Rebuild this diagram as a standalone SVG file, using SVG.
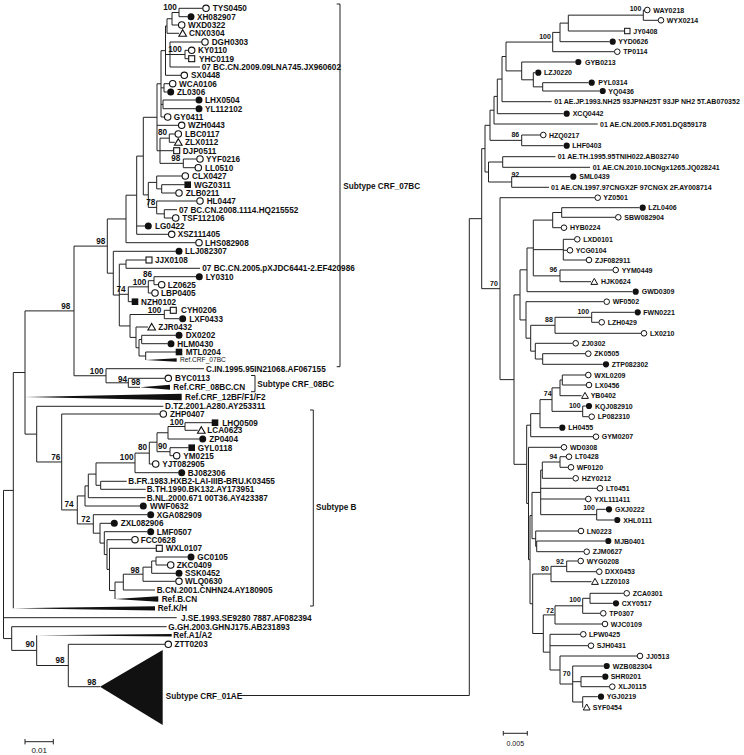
<svg xmlns="http://www.w3.org/2000/svg" xmlns:xlink="http://www.w3.org/1999/xlink" width="744" height="755" viewBox="0 0 744 755">
<style>
.br{fill:none;stroke:#222;stroke-width:1}
.t{font-family:"Liberation Sans",Arial,sans-serif;font-weight:bold;font-size:8.2px;fill:#111}
.tr{font-family:"Liberation Sans",Arial,sans-serif;font-weight:bold;font-size:7px;fill:#111}
.bs{font-family:"Liberation Sans",Arial,sans-serif;font-weight:bold;font-size:8.2px;fill:#111;text-anchor:middle}
.bsr{font-family:"Liberation Sans",Arial,sans-serif;font-weight:bold;font-size:7px;fill:#111;text-anchor:middle}
.sm{font-family:"Liberation Sans",Arial,sans-serif;font-size:6.6px;fill:#111}
.sc{font-family:"Liberation Sans",Arial,sans-serif;font-size:8px;fill:#111;text-anchor:middle}
.w{fill:#111}
</style>
<defs>
<circle id="oc" r="3.2" fill="#fff" stroke="#111" stroke-width="1.1"/>
<circle id="fc" r="3.5" fill="#111"/>
<rect id="os" x="-3" y="-3" width="6" height="6" fill="#fff" stroke="#111" stroke-width="1.1"/>
<rect id="fs" x="-3.3" y="-3.3" width="6.6" height="6.6" fill="#111"/>
<path id="ot" d="M0 -3.6L3.8 3L-3.8 3Z" fill="#fff" stroke="#111" stroke-width="1.1"/>
<circle id="roc" r="2.8" fill="#fff" stroke="#111" stroke-width="1"/>
<circle id="rfc" r="3.1" fill="#111"/>
<rect id="ros" x="-2.7" y="-2.7" width="5.4" height="5.4" fill="#fff" stroke="#111" stroke-width="1"/>
<path id="rot" d="M0 -3.3L3.4 2.7L-3.4 2.7Z" fill="#fff" stroke="#111" stroke-width="1"/>
</defs>
<rect width="744" height="755" fill="#fff"/>

<g id="connectors">
<path class="br" d="M179 8.3V16.7M172 12.5V25M167 18.75V33.3M185 50.3V58.7M170 42V67M165.5 26V75.3M164 83.7V92M163 100V108.7M161 50.65V117M169.3 134V142.3M183.3 159V167.7M160 138.15V163.35M157 83.8V150.75M161.7 184.7V193M156.7 176V188.85M164.3 209.7V218M156.7 201V213.85M148.3 182.4V207.4M143.3 117.3V194.9M136.7 156.1V234.3M126 195.2V242.7M154 276.7V284.7M148.3 280.7V293M128.3 286.85V301.7M126 260V268.3M164.3 310.3V318.7M141.7 335.3V343.7M145.7 352V360M139 339.5V356M136 327V347.75M130 314.5V337.4M119.3 264.15V325.95M113.3 251.3V295.05M107.3 218.95V273.2M128.3 378.3V387.3M106 368.7V382.8M74 246.1V375.75M185 422.7V430.3M168 426.5V439M170 447.7V455.7M157 432.75V451.7M149.3 442.2V464M135 453.1V472.7M100.7 481.3V489.3M96 462.9V485.3M88.3 474.1V497.7M85 485.9V506M156 557V565M151.7 561V573.3M143 567.15V581.3M123.3 574.2V590M115 582.1V599M109.5 548.3V590.55M107 539.7V569.4M104.3 531.7V554.55M100 523.3V543.1M93.3 514.7V533.2M77.3 495.95V523.95M61.7 414V509.95M36.7 406.3V461.98M25 310.9V434.14M13.3 372.52V608.3M11.7 626.7V650.4M36.7 635.3V665.5M68.3 644.3V686.7M3.5 490.41V638.55"/>
<path class="br" d="M179 8.3H202.7M179 16.7H187.7M172 12.5H179M172 25H178.4M167 18.75H172M167 33.3H179M185 50.3H188.4M185 58.7H188.7M170 42H201.7M170 54.5H185M170 67H200M165.5 26H167M165.5 54.5H170M165.5 75.3H181M164 83.7H169.4M164 92H167.4M163 100H195.7M163 108.7H195.7M161 50.65H165.5M161 87.85H164M161 104.35H163M161 117H164.4M169.3 134H175M169.3 142.3H174.8M183.3 159H196.7M183.3 167.7H195M160 138.15H169.3M160 150.7H173.7M160 163.35H183.3M157 83.8H161M157 125.3H178.4M157 150.75H160M161.7 184.7H184.7M161.7 193H175.7M156.7 176H182M156.7 188.85H161.7M164.3 209.7H177M164.3 218H172.4M156.7 201H196.7M156.7 213.85H164.3M148.3 182.4H156.7M148.3 207.4H156.7M143.3 117.3H157M143.3 194.9H148.3M136.7 156.1H143.3M136.7 226H145M136.7 234.3H168.4M126 195.2H136.7M126 242.7H195.7M154 276.7H196M154 284.7H158.4M148.3 280.7H154M148.3 293H151.7M128.3 286.85H148.3M128.3 301.7H132M126 260H146M126 268.3H200M164.3 310.3H170.3M164.3 318.7H179.4M141.7 335.3H175.7M141.7 343.7H167.7M145.7 352H176M139 339.5H141.7M139 356H145.7M136 327H148M136 347.75H139M130 314.5H164.3M130 337.4H136M119.3 264.15H126M119.3 294.3H128.3M119.3 325.95H130M113.3 251.3H175.7M113.3 295.05H119.3M107.3 218.95H126M107.3 273.2H113.3M128.3 378.3H165M128.3 387.3H140M106 368.7H204M106 382.8H128.3M74 246.1H107.3M74 375.75H106M185 422.7H212M185 430.3H197.8M168 426.5H185M168 439H199.4M170 447.7H188.7M170 455.7H173.4M157 432.75H168M157 451.7H170M149.3 442.2H157M149.3 464H152.4M135 453.1H149.3M135 472.7H178.4M100.7 481.3H126.7M100.7 489.3H145.7M96 462.9H135M96 485.3H100.7M88.3 474.1H96M88.3 497.7H145.7M85 485.9H88.3M85 506H140M156 557H187.7M156 565H167.4M151.7 561H156M151.7 573.3H175.7M143 567.15H151.7M143 581.3H175.7M123.3 574.2H143M123.3 590H155M115 582.1H123.3M109.5 548.3H156.3M109.5 590.55H115M107 539.7H131.7M107 569.4H109.5M104.3 531.7H147.4M104.3 554.55H107M100 523.3H111M100 543.1H104.3M93.3 514.7H147.4M93.3 533.2H100M77.3 495.95H85M77.3 523.95H93.3M61.7 414H160M61.7 509.95H77.3M36.7 406.3H163.3M36.7 461.98H61.7M25 310.9H74M25 434.14H36.7M13.3 372.52H25M68.3 644.3H165M68.3 686.7H100M36.7 665.5H68.3M11.7 626.7H166.7M11.7 650.4H36.7M3.5 490.41H13.3M3.5 617.7H176.7M3.5 638.55H11.7"/>
<path class="w" d="M145.7 360L176.7 358.3L176.7 361.7ZM140 387.3L170 384.8L170 389.8ZM25 397L181.7 393.8L181.7 400.2ZM115 599L158.3 596.3L158.3 601.7ZM13.3 608.3L155 606.2L155 610.4ZM36.7 635.3L171.7 634L171.7 636.6Z"/>
<path class="br" d="M643.3 10V20.3M568.3 15.15V31M560 23.1V41.7M552.7 32.4V51.7M542.7 82.7V91M533.3 72.7V86.85M521.7 62V79.8M506 42.05V70.9M502 56.5V101.7M497.3 79.1V113.7M494 96.4V124M521.7 135V145.7M490 110.2V140.35M502.7 156.7V167.3M511.7 176.7V187.3M488.5 162V182M485 125.3V172M561.7 207.7V217.3M552.7 212.5V227.7M563.3 239.3V260M560 270V281.7M533.3 220.1V275.85M527 247.98V291.7M591.7 312.3V322.3M555 317.3V333.3M542.7 353.7V364.3M535.3 343.3V359M530.7 325.3V351.15M526 301.7V338.2M520 269.84V319.95M562.3 375V385M560 380V395.7M582.7 406V416.7M552 387.85V411.35M540 399.6V427.7M530.7 413.65V436.7M560 456.7V467.3M542.3 462V478.3M596.7 509.3V520M540.7 470.15V514.65M536.7 541V551.7M535.7 531V546.35M532 492.4V538.7M566.7 561V571.7M551 566.35V581.7M590 593.3V603.3M582.7 598.3V613.3M555 605.8V624M581 676.7V686.7M582.7 696.7V707.3M572.7 666V702M560 656V684M550 634.3V670M543.3 614.9V652.15M532.7 574V633.5M530 515.55V603.75M528.5 447.3V559.65M526.7 425.2V503.48M514 294.9V464.34M500 197.7V379.62M481.7 148.65V288.66M469.3 218.66V695.5"/>
<path class="br" d="M643.3 10H644.3M643.3 20.3H658M568.3 15.15H643.3M568.3 31H624.5M560 23.1H568.3M560 41.7H609.5M552.7 32.4H560M552.7 51.7H614.3M542.7 82.7H588.5M542.7 91H599.5M533.3 72.7H535.1M533.3 86.85H542.7M521.7 62H575.1M521.7 79.8H533.3M506 42.05H552.7M506 70.9H521.7M502 56.5H506M502 101.7H551.7M497.3 79.1H502M497.3 113.7H563.5M494 96.4H497.3M494 124H597.7M521.7 135H540.3M521.7 145.7H563.5M490 110.2H494M490 140.35H521.7M502.7 156.7H555.5M502.7 167.3H590M511.7 176.7H570.1M511.7 187.3H549M488.5 162H502.7M488.5 182H511.7M485 125.3H490M485 172H488.5M561.7 207.7H639.5M561.7 217.3H615.3M552.7 212.5H561.7M552.7 227.7H561M563.3 239.3H574.3M563.3 250.3H567M563.3 260H586M560 270H612.7M560 281.7H591M533.3 220.1H552.7M533.3 249.65H563.3M533.3 275.85H560M527 247.98H533.3M527 291.7H632.5M591.7 312.3H634.5M591.7 322.3H598.7M555 317.3H591.7M555 333.3H641M542.7 353.7H585.3M542.7 364.3H602.8M535.3 343.3H572.7M535.3 359H542.7M530.7 325.3H555M530.7 351.15H535.3M526 301.7H603.7M526 338.2H530.7M520 269.84H527M520 319.95H526M562.3 375H585.3M562.3 385H586M560 380H562.3M560 395.7H581.5M582.7 406H585.8M582.7 416.7H588.7M552 387.85H560M552 411.35H582.7M540 399.6H552M540 427.7H559.1M530.7 413.65H540M530.7 436.7H593M560 456.7H566M560 467.3H568M542.3 462H560M542.3 478.3H572.7M596.7 509.3H605.8M596.7 520H614.1M540.7 470.15H542.3M540.7 488.3H597M540.7 499H585.3M540.7 514.65H596.7M536.7 541H605.1M536.7 551.7H583.7M535.7 531H578M535.7 546.35H536.7M532 492.4H540.7M532 538.7H535.7M566.7 561H577.7M566.7 571.7H596.3M551 566.35H566.7M551 581.7H591.5M590 593.3H623.7M590 603.3H612.8M582.7 598.3H590M582.7 613.3H600.3M555 605.8H582.7M555 624H602M581 676.7H602.1M581 686.7H609.3M582.7 696.7H597.8M582.7 707.3H583.2M572.7 666H603.5M572.7 681.7H581M572.7 702H582.7M560 656H637M560 684H572.7M550 634.3H580.3M550 645.7H588M550 670H560M543.3 614.9H555M543.3 652.15H550M532.7 574H551M532.7 633.5H543.3M530 515.55H532M530 603.75H532.7M528.5 447.3H561M528.5 559.65H530M526.7 425.2H530.7M526.7 503.48H528.5M514 294.9H520M514 464.34H526.7M500 197.7H594.7M500 379.62H514M481.7 148.65H485M481.7 288.66H500M469.3 218.66H481.7M240.7 695.5H469.3"/>
<path class="br" d="M336.7 4H340V366.7H336.7M251 375.5H255V391.7H251M310 410H313.3V606H310"/>
</g>

<g id="bootstrap-left">
<text class="bs" x="170" y="9.6">100</text>
<text class="bs" x="175" y="51.9">100</text>
<text class="bs" x="162.5" y="135.2">80</text>
<text class="bs" x="175.8" y="161.2">98</text>
<text class="bs" x="150.8" y="205.2">78</text>
<text class="bs" x="100.8" y="243.6">98</text>
<text class="bs" x="65.8" y="309.4">98</text>
<text class="bs" x="147.5" y="276.9">86</text>
<text class="bs" x="139.5" y="285.2">100</text>
<text class="bs" x="121" y="291.9">74</text>
<text class="bs" x="154.5" y="312.9">100</text>
<text class="bs" x="96.7" y="373.6">100</text>
<text class="bs" x="122.5" y="381.6">94</text>
<text class="bs" x="135.8" y="385.2">98</text>
<text class="bs" x="176.7" y="424.8">100</text>
<text class="bs" x="142.5" y="449.6">80</text>
<text class="bs" x="162.5" y="448.9">90</text>
<text class="bs" x="126.7" y="459.6">100</text>
<text class="bs" x="55.8" y="459.6">76</text>
<text class="bs" x="69" y="506.9">74</text>
<text class="bs" x="85.8" y="521.9">72</text>
<text class="bs" x="135" y="572.6">98</text>
<text class="bs" x="30" y="647.2">90</text>
<text class="bs" x="60" y="662.9">98</text>
<text class="bs" x="91.7" y="684.6">98</text>
</g>
<g id="bootstrap-right">
<text class="bsr" x="635.5" y="10.8">100</text>
<text class="bsr" x="545" y="38.5">100</text>
<text class="bsr" x="515.3" y="136.8">86</text>
<text class="bsr" x="515.3" y="176.8">92</text>
<text class="bsr" x="494" y="285.8">70</text>
<text class="bsr" x="553.3" y="271.5">96</text>
<text class="bsr" x="583.3" y="313.5">100</text>
<text class="bsr" x="549" y="321.5">88</text>
<text class="bsr" x="547.7" y="395.8">74</text>
<text class="bsr" x="574.8" y="408.2">100</text>
<text class="bsr" x="553.3" y="459.2">94</text>
<text class="bsr" x="589" y="509.8">100</text>
<text class="bsr" x="560" y="563.5">92</text>
<text class="bsr" x="545" y="570.8">80</text>
<text class="bsr" x="575" y="601.5">100</text>
<text class="bsr" x="550" y="612.5">72</text>
<text class="bsr" x="566.7" y="675.8">70</text>
</g>

<g id="n-TYS0450"><use href="#oc" x="206" y="8.3"/><text class="t" x="212.7" y="11.2">TYS0450</text></g>
<g id="n-XH082907"><use href="#fc" x="191" y="16.7"/><text class="t" x="197" y="19.6">XH082907</text></g>
<g id="n-WXD0322"><use href="#oc" x="181.7" y="25"/><text class="t" x="188" y="27.9">WXD0322</text></g>
<g id="n-CNX0304"><use href="#ot" x="182.7" y="33.3"/><text class="t" x="189" y="36.2">CNX0304</text></g>
<g id="n-DGH0303"><use href="#oc" x="205" y="42"/><text class="t" x="211.7" y="44.9">DGH0303</text></g>
<g id="n-KY0110"><use href="#oc" x="191.7" y="50.3"/><text class="t" x="198" y="53.2">KY0110</text></g>
<g id="n-YHC0119"><use href="#os" x="191.7" y="58.7"/><text class="t" x="199" y="61.6">YHC0119</text></g>
<g id="n-JX960602"><text class="t" x="201.7" y="69.9">07 BC.CN.2009.09LNA745.JX960602</text></g>
<g id="n-SX0448"><use href="#oc" x="184.3" y="75.3"/><text class="t" x="191" y="78.2">SX0448</text></g>
<g id="n-WCA0106"><use href="#oc" x="172.7" y="83.7"/><text class="t" x="179" y="86.6">WCA0106</text></g>
<g id="n-ZL0306"><use href="#fc" x="170.7" y="92"/><text class="t" x="177" y="94.9">ZL0306</text></g>
<g id="n-LHX0504"><use href="#fc" x="199" y="100"/><text class="t" x="205" y="102.9">LHX0504</text></g>
<g id="n-YL112102"><use href="#fc" x="199" y="108.7"/><text class="t" x="205" y="111.6">YL112102</text></g>
<g id="n-GY0411"><use href="#oc" x="167.7" y="117"/><text class="t" x="173.8" y="119.9">GY0411</text></g>
<g id="n-WZH0443"><use href="#oc" x="181.7" y="125.3"/><text class="t" x="188" y="128.2">WZH0443</text></g>
<g id="n-LBC0117"><use href="#oc" x="178.3" y="134"/><text class="t" x="185" y="136.9">LBC0117</text></g>
<g id="n-ZLX0112"><use href="#ot" x="178.3" y="142.3"/><text class="t" x="185" y="145.2">ZLX0112</text></g>
<g id="n-DJP0511"><use href="#os" x="176.7" y="150.7"/><text class="t" x="182.7" y="153.6">DJP0511</text></g>
<g id="n-YYF0216"><use href="#oc" x="200" y="159"/><text class="t" x="206" y="161.9">YYF0216</text></g>
<g id="n-LL0510"><use href="#oc" x="198.3" y="167.7"/><text class="t" x="205" y="170.6">LL0510</text></g>
<g id="n-CLX0427"><use href="#oc" x="185.3" y="176"/><text class="t" x="192" y="178.9">CLX0427</text></g>
<g id="n-WGZ0311"><use href="#fs" x="187.7" y="184.7"/><text class="t" x="194" y="187.6">WGZ0311</text></g>
<g id="n-ZLB0211"><use href="#oc" x="179" y="193"/><text class="t" x="185.7" y="195.9">ZLB0211</text></g>
<g id="n-HL0447"><use href="#oc" x="200" y="201"/><text class="t" x="206.7" y="203.9">HL0447</text></g>
<g id="n-HQ215552"><text class="t" x="179" y="212.6">07 BC.CN.2008.1114.HQ215552</text></g>
<g id="n-TSF112106"><use href="#oc" x="175.7" y="218"/><text class="t" x="182.3" y="220.9">TSF112106</text></g>
<g id="n-LG0422"><use href="#fc" x="148.3" y="226"/><text class="t" x="155" y="228.9">LG0422</text></g>
<g id="n-XSZ111405"><use href="#oc" x="171.7" y="234.3"/><text class="t" x="177.7" y="237.2">XSZ111405</text></g>
<g id="n-LHS082908"><use href="#oc" x="199" y="242.7"/><text class="t" x="205" y="245.6">LHS082908</text></g>
<g id="n-LLJ082307"><use href="#fc" x="179" y="251.3"/><text class="t" x="185" y="254.2">LLJ082307</text></g>
<g id="n-JJX0108"><use href="#os" x="149" y="260"/><text class="t" x="155" y="262.9">JJX0108</text></g>
<g id="n-EF420986"><text class="t" x="202.3" y="271.2">07 BC.CN.2005.pXJDC6441-2.EF420986</text></g>
<g id="n-LY0310"><use href="#fc" x="199.3" y="276.7"/><text class="t" x="205.7" y="279.6">LY0310</text></g>
<g id="n-LZ0625"><use href="#oc" x="161.7" y="284.7"/><text class="t" x="167.7" y="287.6">LZ0625</text></g>
<g id="n-LBP0405"><use href="#oc" x="155" y="293"/><text class="t" x="161" y="295.9">LBP0405</text></g>
<g id="n-NZH0102"><use href="#fs" x="135" y="301.7"/><text class="t" x="141" y="304.6">NZH0102</text></g>
<g id="n-CYH0206"><use href="#os" x="173.3" y="310.3"/><text class="t" x="181" y="313.2">CYH0206</text></g>
<g id="n-LXF0433"><use href="#fc" x="182.7" y="318.7"/><text class="t" x="189.3" y="321.6">LXF0433</text></g>
<g id="n-ZJR0432"><use href="#ot" x="151.7" y="327"/><text class="t" x="158.3" y="329.9">ZJR0432</text></g>
<g id="n-DX0202"><use href="#fc" x="179" y="335.3"/><text class="t" x="185.7" y="338.2">DX0202</text></g>
<g id="n-HLM0430"><use href="#fc" x="171" y="343.7"/><text class="t" x="177.3" y="346.6">HLM0430</text></g>
<g id="n-MTL0204"><use href="#fs" x="179" y="352"/><text class="t" x="185.7" y="354.9">MTL0204</text></g>
<g id="n-RefCRF07BC"><text class="sm" x="180" y="362.4">Ref.CRF_07BC</text></g>
<g id="n-AF067155"><text class="t" x="206" y="371.6">C.IN.1995.95IN21068.AF067155</text></g>
<g id="n-BYC0113"><use href="#oc" x="168.3" y="378.3"/><text class="t" x="175" y="381.2">BYC0113</text></g>
<g id="n-RefCRF08BC"><text class="t" x="173.3" y="390.2">Ref.CRF_08BC.CN</text></g>
<g id="n-RefCRF12BF"><text class="t" x="185" y="399.9">Ref.CRF_12BF/F1/F2</text></g>
<g id="n-AY253311"><text class="t" x="165" y="409.2">D.TZ.2001.A280.AY253311</text></g>
<g id="n-ZHP0407"><use href="#oc" x="163.3" y="414"/><text class="t" x="170" y="416.7">ZHP0407</text></g>
<g id="n-LHQ0509"><use href="#fs" x="215" y="422.7"/><text class="t" x="222.3" y="425.6">LHQ0509</text></g>
<g id="n-LCA0623"><use href="#ot" x="201.3" y="430.3"/><text class="t" x="207.3" y="433.2">LCA0623</text></g>
<g id="n-ZP0404"><use href="#fc" x="202.7" y="439"/><text class="t" x="209.3" y="441.9">ZP0404</text></g>
<g id="n-GYL0118"><use href="#fs" x="191.7" y="447.7"/><text class="t" x="197.7" y="450.6">GYL0118</text></g>
<g id="n-YM0215"><use href="#oc" x="176.7" y="455.7"/><text class="t" x="183.3" y="458.6">YM0215</text></g>
<g id="n-YJT082905"><use href="#oc" x="155.7" y="464"/><text class="t" x="162.3" y="466.9">YJT082905</text></g>
<g id="n-BJ082306"><use href="#fc" x="181.7" y="472.7"/><text class="t" x="187.7" y="475.6">BJ082306</text></g>
<g id="n-K03455"><text class="t" x="128.3" y="484.2">B.FR.1983.HXB2-LAI-IIIB-BRU.K03455</text></g>
<g id="n-AY173951"><text class="t" x="146.7" y="492.2">B.TH.1990.BK132.AY173951</text></g>
<g id="n-AY423387"><text class="t" x="146.7" y="500.6">B.NL.2000.671 00T36.AY423387</text></g>
<g id="n-WWF0632"><use href="#fc" x="143.3" y="506"/><text class="t" x="150" y="508.9">WWF0632</text></g>
<g id="n-XGA082909"><use href="#fc" x="150.7" y="514.7"/><text class="t" x="156.7" y="517.6">XGA082909</text></g>
<g id="n-ZXL082906"><use href="#fc" x="114.3" y="523.3"/><text class="t" x="120.7" y="526.2">ZXL082906</text></g>
<g id="n-LMF0507"><use href="#fc" x="150.7" y="531.7"/><text class="t" x="156.7" y="534.6">LMF0507</text></g>
<g id="n-FCC0628"><use href="#oc" x="135" y="539.7"/><text class="t" x="140.7" y="542.6">FCC0628</text></g>
<g id="n-WXL0107"><use href="#os" x="159.3" y="548.3"/><text class="t" x="165.7" y="551.2">WXL0107</text></g>
<g id="n-GC0105"><use href="#fc" x="191" y="557"/><text class="t" x="197.3" y="559.9">GC0105</text></g>
<g id="n-ZKC0409"><use href="#oc" x="170.7" y="565"/><text class="t" x="176.7" y="567.9">ZKC0409</text></g>
<g id="n-SSK0452"><use href="#fc" x="179" y="573.3"/><text class="t" x="185" y="576.2">SSK0452</text></g>
<g id="n-WLQ0630"><use href="#oc" x="179" y="581.3"/><text class="t" x="185" y="584.2">WLQ0630</text></g>
<g id="n-AY180905"><text class="t" x="156.7" y="592.9">B.CN.2001.CNHN24.AY180905</text></g>
<g id="n-RefBCN"><text class="t" x="161.7" y="601.9">Ref.B.CN</text></g>
<g id="n-RefKH"><text class="t" x="157.7" y="611.2">Ref.K/H</text></g>
<g id="n-AF082394"><text class="t" x="181" y="620.6">J.SE.1993.SE9280 7887.AF082394</text></g>
<g id="n-AB231893"><text class="t" x="168.3" y="629.6">G.GH.2003.GHNJ175.AB231893</text></g>
<g id="n-RefA1A2"><text class="t" x="173.3" y="638.2">Ref.A1/A2</text></g>
<g id="n-ZTT0203"><use href="#oc" x="168.3" y="644.3"/><text class="t" x="174.5" y="647.2">ZTT0203</text></g>
<g id="n-CRF01AE"><path class="w" d="M100 686.7L162.7 650L162.7 725Z"/><text class="t" x="165.7" y="698.5">Subtype CRF_01AE</text></g>

<g id="subtype-07BC"><text class="t" x="343.3" y="189">Subtype CRF_07BC</text></g>
<g id="subtype-08BC"><text class="t" x="257.3" y="387.3">Subtype CRF_08BC</text></g>
<g id="subtype-B"><text class="t" x="316" y="510.3">Subtype B</text></g>

<g id="n-WAY0218"><use href="#roc" x="647.3" y="10"/><text class="tr" x="653.3" y="12.5">WAY0218</text></g>
<g id="n-WYX0214"><use href="#roc" x="661" y="20.3"/><text class="tr" x="666.7" y="22.8">WYX0214</text></g>
<g id="n-JY0408"><use href="#ros" x="627.3" y="31"/><text class="tr" x="633.3" y="33.5">JY0408</text></g>
<g id="n-YYD0626"><use href="#rfc" x="612.7" y="41.7"/><text class="tr" x="618.3" y="44.2">YYD0626</text></g>
<g id="n-TP0114"><use href="#roc" x="617.3" y="51.7"/><text class="tr" x="623.3" y="54.2">TP0114</text></g>
<g id="n-GYB0213"><use href="#rfc" x="578.3" y="62"/><text class="tr" x="585" y="64.5">GYB0213</text></g>
<g id="n-LZJ0220"><use href="#rfc" x="538.3" y="72.7"/><text class="tr" x="544" y="75.2">LZJ0220</text></g>
<g id="n-PYL0314"><use href="#rfc" x="591.7" y="82.7"/><text class="tr" x="598.3" y="85.2">PYL0314</text></g>
<g id="n-YQ0436"><use href="#rfc" x="602.7" y="91"/><text class="tr" x="608.3" y="93.5">YQ0436</text></g>
<g id="n-AB070352"><text class="tr" x="554.3" y="104.2">01 AE.JP.1993.NH25 93JPNH25T 93JP NH2 5T.AB070352</text></g>
<g id="n-XCQ0442"><use href="#rfc" x="566.7" y="113.7"/><text class="tr" x="572.7" y="116.2">XCQ0442</text></g>
<g id="n-DQ859178"><text class="tr" x="600" y="126.5">01 AE.CN.2005.FJ051.DQ859178</text></g>
<g id="n-HZQ0217"><use href="#roc" x="543.3" y="135"/><text class="tr" x="549" y="137.5">HZQ0217</text></g>
<g id="n-LHF0403"><use href="#rfc" x="566.7" y="145.7"/><text class="tr" x="572.3" y="148.2">LHF0403</text></g>
<g id="n-AB032740"><text class="tr" x="557.7" y="159.2">01 AE.TH.1995.95TNIH022.AB032740</text></g>
<g id="n-JQ028241"><text class="tr" x="592.7" y="169.8">01 AE.CN.2010.10CNgx1265.JQ028241</text></g>
<g id="n-SML0439"><use href="#rfc" x="573.3" y="176.7"/><text class="tr" x="579.3" y="179.2">SML0439</text></g>
<g id="n-AY008714"><text class="tr" x="551" y="189.8">01 AE.CN.1997.97CNGX2F 97CNGX 2F.AY008714</text></g>
<g id="n-YZ0501"><use href="#roc" x="597.7" y="197.7"/><text class="tr" x="603.3" y="200.2">YZ0501</text></g>
<g id="n-LZL0406"><use href="#rfc" x="642.7" y="207.7"/><text class="tr" x="648.3" y="210.2">LZL0406</text></g>
<g id="n-SBW082904"><use href="#roc" x="618.3" y="217.3"/><text class="tr" x="624.3" y="219.8">SBW082904</text></g>
<g id="n-HYB0224"><use href="#roc" x="564" y="227.7"/><text class="tr" x="570" y="230.2">HYB0224</text></g>
<g id="n-LXD0101"><use href="#roc" x="577.3" y="239.3"/><text class="tr" x="583.3" y="241.8">LXD0101</text></g>
<g id="n-YCG0104"><use href="#roc" x="570" y="250.3"/><text class="tr" x="575.7" y="252.8">YCG0104</text></g>
<g id="n-ZJF082911"><use href="#roc" x="589" y="260"/><text class="tr" x="595" y="262.5">ZJF082911</text></g>
<g id="n-YYM0449"><use href="#roc" x="615.7" y="270"/><text class="tr" x="621.7" y="272.5">YYM0449</text></g>
<g id="n-HJK0624"><use href="#rot" x="594.3" y="281.7"/><text class="tr" x="601" y="284.2">HJK0624</text></g>
<g id="n-GWD0309"><use href="#rfc" x="635.7" y="291.7"/><text class="tr" x="641.7" y="294.2">GWD0309</text></g>
<g id="n-WF0502"><use href="#roc" x="606.7" y="301.7"/><text class="tr" x="612.7" y="304.2">WF0502</text></g>
<g id="n-FWN0221"><use href="#rfc" x="637.7" y="312.3"/><text class="tr" x="643.3" y="314.8">FWN0221</text></g>
<g id="n-LZH0429"><use href="#roc" x="601.7" y="322.3"/><text class="tr" x="607.7" y="324.8">LZH0429</text></g>
<g id="n-LX0210"><use href="#roc" x="644" y="333.3"/><text class="tr" x="650" y="335.8">LX0210</text></g>
<g id="n-ZJ0302"><use href="#roc" x="575.7" y="343.3"/><text class="tr" x="581.7" y="345.8">ZJ0302</text></g>
<g id="n-ZK0505"><use href="#roc" x="588.3" y="353.7"/><text class="tr" x="594.3" y="356.2">ZK0505</text></g>
<g id="n-ZTP082302"><use href="#rfc" x="606" y="364.3"/><text class="tr" x="611.7" y="366.8">ZTP082302</text></g>
<g id="n-WXL0209"><use href="#roc" x="588.3" y="375"/><text class="tr" x="594.3" y="377.5">WXL0209</text></g>
<g id="n-LX0456"><use href="#roc" x="589" y="385"/><text class="tr" x="595" y="387.5">LX0456</text></g>
<g id="n-YB0402"><use href="#rot" x="585" y="395.7"/><text class="tr" x="590.7" y="398.2">YB0402</text></g>
<g id="n-KQJ082910"><use href="#rfc" x="589" y="406"/><text class="tr" x="595" y="408.5">KQJ082910</text></g>
<g id="n-LP082310"><use href="#roc" x="591.7" y="416.7"/><text class="tr" x="597.7" y="419.2">LP082310</text></g>
<g id="n-LH0455"><use href="#rfc" x="562.3" y="427.7"/><text class="tr" x="568.3" y="430.2">LH0455</text></g>
<g id="n-GYM0207"><use href="#roc" x="596" y="436.7"/><text class="tr" x="601.7" y="439.2">GYM0207</text></g>
<g id="n-WD0308"><use href="#roc" x="564" y="447.3"/><text class="tr" x="570" y="449.8">WD0308</text></g>
<g id="n-LT0428"><use href="#roc" x="569" y="456.7"/><text class="tr" x="575" y="459.2">LT0428</text></g>
<g id="n-WF0120"><use href="#roc" x="571" y="467.3"/><text class="tr" x="576.7" y="469.8">WF0120</text></g>
<g id="n-HZY0212"><use href="#roc" x="575.7" y="478.3"/><text class="tr" x="581.7" y="480.8">HZY0212</text></g>
<g id="n-LT0451"><use href="#roc" x="600" y="488.3"/><text class="tr" x="606" y="490.8">LT0451</text></g>
<g id="n-YXL111411"><use href="#roc" x="588.3" y="499"/><text class="tr" x="594.3" y="501.5">YXL111411</text></g>
<g id="n-GXJ0222"><use href="#rfc" x="609" y="509.3"/><text class="tr" x="615" y="511.8">GXJ0222</text></g>
<g id="n-XHL0111"><use href="#rfc" x="617.3" y="520"/><text class="tr" x="623.3" y="522.5">XHL0111</text></g>
<g id="n-LN0223"><use href="#roc" x="581" y="531"/><text class="tr" x="586.7" y="533.5">LN0223</text></g>
<g id="n-MJB0401"><use href="#rfc" x="608.3" y="541"/><text class="tr" x="614.3" y="543.5">MJB0401</text></g>
<g id="n-ZJM0627"><use href="#roc" x="586.7" y="551.7"/><text class="tr" x="592.7" y="554.2">ZJM0627</text></g>
<g id="n-WYG0208"><use href="#roc" x="580.7" y="561"/><text class="tr" x="586.7" y="563.5">WYG0208</text></g>
<g id="n-DXX0453"><use href="#roc" x="599.3" y="571.7"/><text class="tr" x="605" y="574.2">DXX0453</text></g>
<g id="n-LZZ0103"><use href="#rot" x="595" y="581.7"/><text class="tr" x="601" y="584.2">LZZ0103</text></g>
<g id="n-ZCA0301"><use href="#roc" x="626.7" y="593.3"/><text class="tr" x="632.7" y="595.8">ZCA0301</text></g>
<g id="n-CXY0517"><use href="#rfc" x="616" y="603.3"/><text class="tr" x="621.7" y="605.8">CXY0517</text></g>
<g id="n-TP0307"><use href="#roc" x="603.3" y="613.3"/><text class="tr" x="609.3" y="615.8">TP0307</text></g>
<g id="n-WJC0109"><use href="#roc" x="605" y="624"/><text class="tr" x="610.7" y="626.5">WJC0109</text></g>
<g id="n-LPW0425"><use href="#roc" x="583.3" y="634.3"/><text class="tr" x="589" y="636.8">LPW0425</text></g>
<g id="n-SJH0431"><use href="#roc" x="591" y="645.7"/><text class="tr" x="596.7" y="648.2">SJH0431</text></g>
<g id="n-JJ0513"><use href="#roc" x="640" y="656"/><text class="tr" x="646" y="658.5">JJ0513</text></g>
<g id="n-WZB082304"><use href="#rfc" x="606.7" y="666"/><text class="tr" x="612.7" y="668.5">WZB082304</text></g>
<g id="n-SHR0201"><use href="#rfc" x="605.3" y="676.7"/><text class="tr" x="610.7" y="679.2">SHR0201</text></g>
<g id="n-XLJ0115"><use href="#roc" x="612.3" y="686.7"/><text class="tr" x="618.3" y="689.2">XLJ0115</text></g>
<g id="n-YGJ0219"><use href="#rfc" x="601" y="696.7"/><text class="tr" x="606.7" y="699.2">YGJ0219</text></g>
<g id="n-SYF0454"><use href="#rot" x="586.7" y="707.3"/><text class="tr" x="592.7" y="709.8">SYF0454</text></g>

<g id="scale-left"><path class="br" d="M25 741.7H53.3M25 739V744.4M53.3 739V744.4"/><text class="sc" x="39.2" y="752.5">0.01</text></g>
<g id="scale-right"><path class="br" d="M503.3 733.3H527.3M503.3 731V735.6M527.3 731V735.6"/><text class="sc" x="515.3" y="745.5" style="font-size:7px">0.005</text></g>
</svg>
